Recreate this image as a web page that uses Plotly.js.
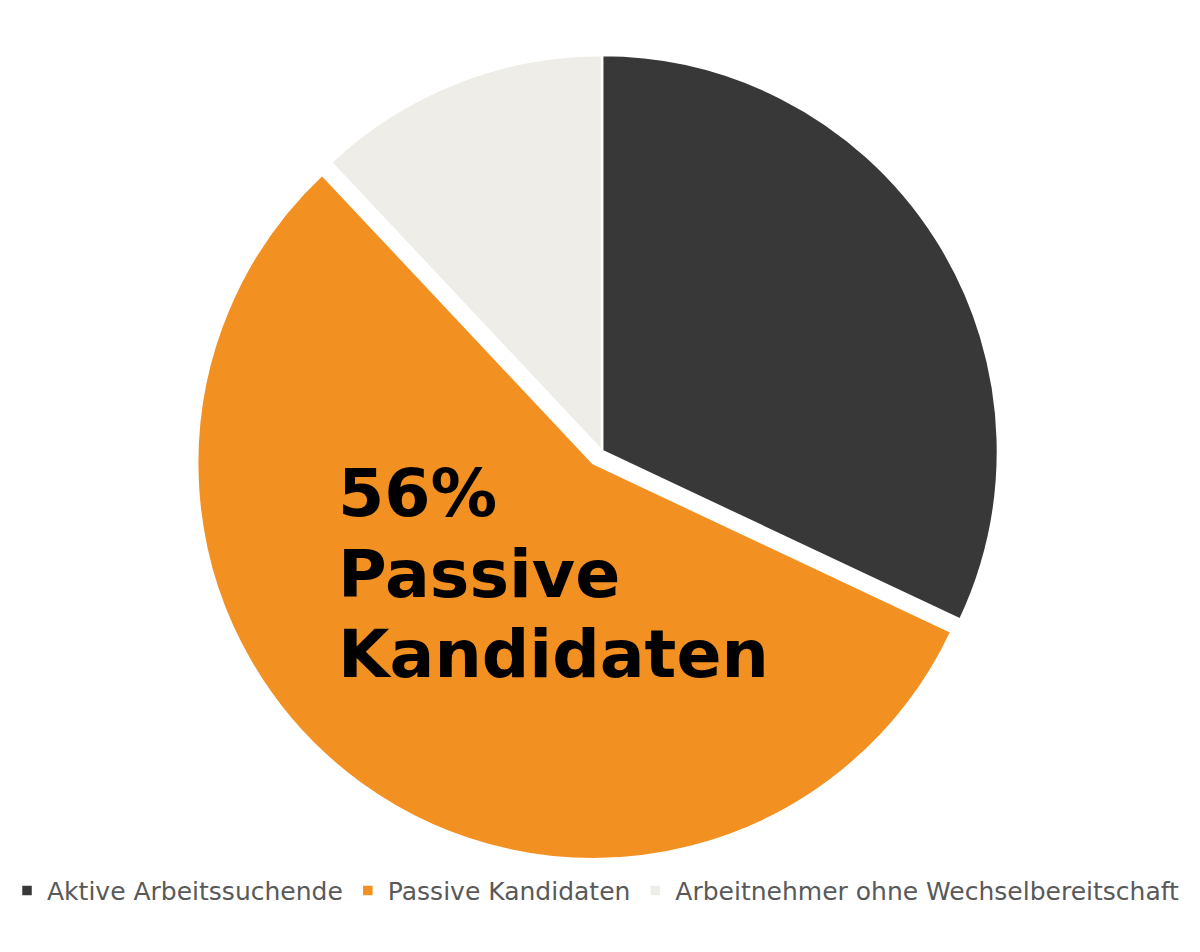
<!DOCTYPE html>
<html>
<head>
<meta charset="utf-8">
<script src="https://cdn.plot.ly/plotly-3.0.1.min.js"></script>
<style>
  html, body { margin: 0; padding: 0; background: #fff; }
  #chart { width: 1200px; height: 952px; }
</style>
</head>
<body>
<div id="chart"></div>
<script>
let labels = ['Aktive Arbeitssuchende', 'Passive Kandidaten', 'Arbeitnehmer ohne Wechselbereitschaft']
let values = [32, 56, 12]
let slice_colors = ['#383838', '#F39022', '#EFEDE7']
let pulls = [0, 0.038, 0]

// big label on the orange slice, one line per annotation
let label_lines = ['56%', 'Passive', 'Kandidaten']
let label_y = [0.449, 0.350, 0.253]

let pie_trace = {
  type: 'pie',
  labels: labels,
  values: values,
  sort: false,
  direction: 'clockwise',
  rotation: 0,
  pull: pulls,
  textinfo: 'none',
  hoverinfo: 'label+percent',
  marker: {
    colors: slice_colors,
    line: { color: '#ffffff', width: 2.5 }
  }
}

let annotations = []
for (let i = 0; i < label_lines.length; i++) {
  annotations.push({
    xref: 'paper', yref: 'paper',
    x: 0.278, y: label_y[i],
    xanchor: 'left', yanchor: 'middle',
    text: '<b>' + label_lines[i] + '</b>',
    showarrow: false,
    font: { family: 'DejaVu Sans', size: 66.5, color: '#000000' }
  })
}

let layout = {
  width: 1200,
  height: 952,
  margin: { l: 4, r: 0, t: 40, b: 90 },
  paper_bgcolor: '#ffffff',
  showlegend: true,
  legend: {
    orientation: 'h',
    x: 0.495, xanchor: 'center',
    y: -0.035, yanchor: 'middle',
    font: { family: 'DejaVu Sans', size: 25, color: '#595959' },
    itemwidth: 30,
    traceorder: 'normal'
  },
  annotations: annotations
}

Plotly.newPlot('chart', [pie_trace], layout, { displayModeBar: false })
</script>
</body>
</html>
